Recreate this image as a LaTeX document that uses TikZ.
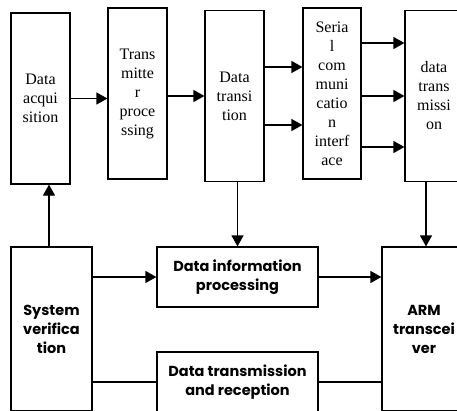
\documentclass[tikz,border=0pt]{standalone}
\usepackage{fontspec}
\setmainfont{Liberation Serif}
\newfontfamily\geofont{Poppins}
\usetikzlibrary{arrows.meta}

\begin{document}
\begin{tikzpicture}[
  x=1pt, y=-1pt,
  >={Triangle[length=11pt,width=12pt]},
  line width=1.2pt,
  upbox/.style={draw, minimum width=59pt, minimum height=171pt, inner sep=0pt,
                align=center, font=\fontsize{16}{19}\selectfont},
  lowbox/.style={draw, inner sep=0pt, align=center,
                 font=\geofont\bfseries\fontsize{14.5}{19}\selectfont},
  arr/.style={->},
]
\useasboundingbox (0,0) rectangle (457,410);

% upper row
\node[upbox] (acq) at ( 40.5,98.5) {Data\\acqui\\sition};
\node[upbox] (tpr) at (137.5,93.5) {Trans\\mitte\\r\\proce\\ssing};
\node[upbox] (dtr) at (234.5,96)   {Data\\transi\\tion};
\node[upbox, minimum width=58pt] (sci) at (332,93.5) {Seria\\l\\com\\muni\\catio\\n\\interf\\ace};
\node[upbox, minimum width=58pt] (dtm) at (434,96) {data\\trans\\missi\\on};

% lower row
\node[lowbox, minimum width=81pt,  minimum height=164pt] (sysv) at ( 51.5,329) {System\\verifica\\tion};
\node[lowbox, minimum width=84pt,  minimum height=164pt] (arm)  at (424,329)   {ARM\\transcei\\ver};
\node[lowbox, minimum width=161pt, minimum height=60pt]  (dip)  at (237.5,277) {Data information\\processing};
\node[lowbox, minimum width=161pt, minimum height=60pt]  (dtx)  at (237.5,382) {Data transmission\\and reception};

% connectors
\draw[arr] (acq.east) -- (acq.east -| tpr.west);
\draw[arr] (dtr.west -| tpr.east) -- (dtr.west);
\foreach \dy in {29,-29}{
  \draw[arr] ([yshift=\dy pt]dtr.east) -- ([yshift=\dy pt]dtr.east -| sci.west);
}
\foreach \dy in {53,0,-51}{
  \draw[arr] ([yshift=\dy pt]dtm.west -| sci.east) -- ([yshift=\dy pt]dtm.west);
}
\draw[arr] ([xshift=-2.5pt]sysv.north) -- ([xshift=-2.5pt]sysv.north |- acq.south);
\draw[arr] (dtr.south -| dip.north) -- (dip.north);
\draw[arr] ([xshift=2pt]dtm.south -| arm.north) -- ([xshift=2pt]arm.north);
\draw[arr] (dip.west -| sysv.east) -- (dip.west);
\draw[arr] (dip.east) -- (dip.east -| arm.west);
\draw (dtx.west -| sysv.east) -- (dtx.west);
\draw (dtx.east) -- (dtx.east -| arm.west);

\end{tikzpicture}
\end{document}
